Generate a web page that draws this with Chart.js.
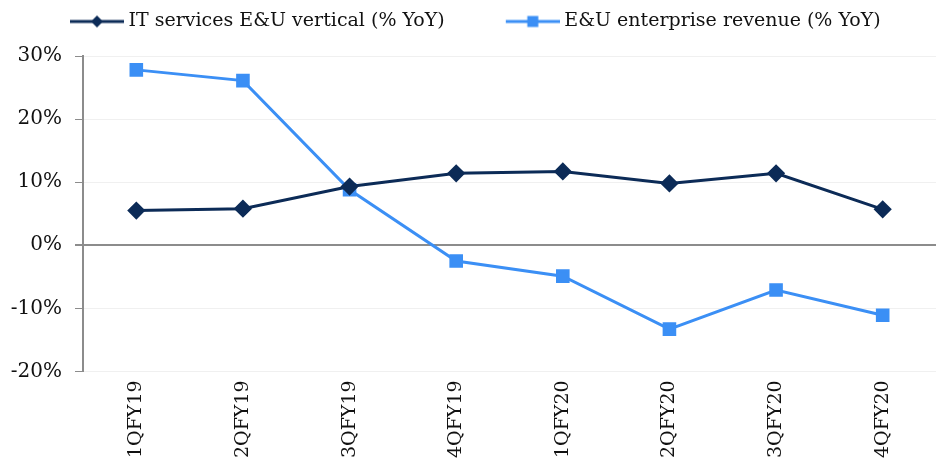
<!DOCTYPE html>
<html lang="en">
<head>
<meta charset="UTF-8">
<title>E&U vertical vs enterprise revenue</title>
<script src="https://cdn.jsdelivr.net/npm/chart.js"></script>
<style>
    html, body { margin: 0; padding: 0; background: #fff; }
    #wrap { width: 938px; height: 468px; }
</style>
</head>
<body>
<div id="wrap"><canvas id="chart" width="938" height="468"></canvas></div>
<script>
    // quarters
    const quarters = ['1QFY19', '2QFY19', '3QFY19', '4QFY19', '1QFY20', '2QFY20', '3QFY20', '4QFY20'];
    // IT services E&U vertical, % YoY
    const itServices = [5.5, 5.8, 9.3, 11.4, 11.7, 9.8, 11.4, 5.7];
    // E&U enterprise revenue, % YoY
    const enterpriseRev = [27.8, 26.1, 8.8, -2.5, -4.9, -13.3, -7.1, -11.1];

    const darkBlue = '#0c2b57';
    const lightBlue = '#3b8ff5';
    const fontFamily = '"DejaVu Serif", "Liberation Serif", serif';

    // line+marker picture for the legend (Excel style).
    // The legend box is iconBox wide; the picture is 10px wider and is centred
    // on the box, so the line runs 5px past the box, close to the text.
    const iconBox = 100, iconLine = 54;
    function legendIcon(color, shape) {
        const c = document.createElement('canvas');
        c.width = iconBox + 10; c.height = 16;
        const g = c.getContext('2d');
        const x0 = c.width - iconLine;
        const mid = x0 + iconLine / 2;
        g.strokeStyle = color;
        g.lineWidth = 3;
        g.beginPath();
        g.moveTo(x0, 8); g.lineTo(c.width, 8);
        g.stroke();
        g.fillStyle = color;
        if (shape === 'diamond') {
            g.beginPath();
            g.moveTo(mid, 2); g.lineTo(mid + 6, 8); g.lineTo(mid, 14); g.lineTo(mid - 6, 8);
            g.closePath(); g.fill();
        } else {
            g.fillRect(mid - 5.5, 2.5, 11, 11);
        }
        return c;
    }

    // extra room between legend and plot
    const legendSpacer = {
        id: 'legendSpacer',
        afterInit(chart) {
            const lg = chart.legend;
            const fit = lg.fit;
            lg.fit = function () { fit.call(this); this.height += 15; };
        }
    };

    new Chart(document.getElementById('chart'), {
        type: 'line',
        data: {
            labels: quarters,
            datasets: [
                {
                    label: 'IT services E&U vertical (% YoY)',
                    data: itServices,
                    borderColor: darkBlue,
                    backgroundColor: darkBlue,
                    borderWidth: 3,
                    pointStyle: 'rectRot',
                    pointRadius: 7,
                    tension: 0
                },
                {
                    label: 'E&U enterprise revenue (% YoY)',
                    data: enterpriseRev,
                    borderColor: lightBlue,
                    backgroundColor: lightBlue,
                    borderWidth: 3,
                    pointStyle: 'rect',
                    pointRadius: 7.5,
                    tension: 0
                }
            ]
        },
        plugins: [legendSpacer],
        options: {
            responsive: false,
            animation: false,
            layout: { autoPadding: false, padding: { top: 2, right: 2, left: 9, bottom: 1 } },
            plugins: {
                tooltip: { enabled: false },
                legend: {
                    position: 'top',
                    align: 'start',
                    labels: {
                        color: '#111',
                        font: { family: fontFamily, size: 19 },
                        usePointStyle: true,
                        pointStyleWidth: iconBox,
                        boxHeight: 16,
                        padding: 10,
                        generateLabels(chart) {
                            const shapes = ['diamond', 'square'];
                            return chart.data.datasets.map((ds, i) => ({
                                text: ds.label,
                                fillStyle: ds.borderColor,
                                strokeStyle: ds.borderColor,
                                lineWidth: 0,
                                pointStyle: legendIcon(ds.borderColor, shapes[i]),
                                fontColor: '#111',
                                hidden: false,
                                datasetIndex: i
                            }));
                        }
                    }
                }
            },
            scales: {
                x: {
                    offset: true,
                    grid: { display: false, drawTicks: false },
                    border: { display: false },
                    ticks: {
                        color: '#111',
                        font: { family: fontFamily, size: 19 },
                        minRotation: 90,
                        maxRotation: 90,
                        padding: 9
                    }
                },
                y: {
                    min: -20,
                    max: 30,
                    afterFit(scale) { scale.width = 74; },
                    border: { display: true, color: '#8c8c8c', width: 2 },
                    grid: {
                        color: ctx => ctx.tick && ctx.tick.value === 0 ? '#8c8c8c' : '#f0f0f0',
                        lineWidth: ctx => ctx.tick && ctx.tick.value === 0 ? 2 : 1,
                        tickColor: '#8c8c8c',
                        tickLength: 8
                    },
                    ticks: {
                        stepSize: 10,
                        color: '#111',
                        font: { family: fontFamily, size: 20 },
                        padding: 13,
                        callback: v => v + '%'
                    }
                }
            }
        }
    });
</script>
</body>
</html>
